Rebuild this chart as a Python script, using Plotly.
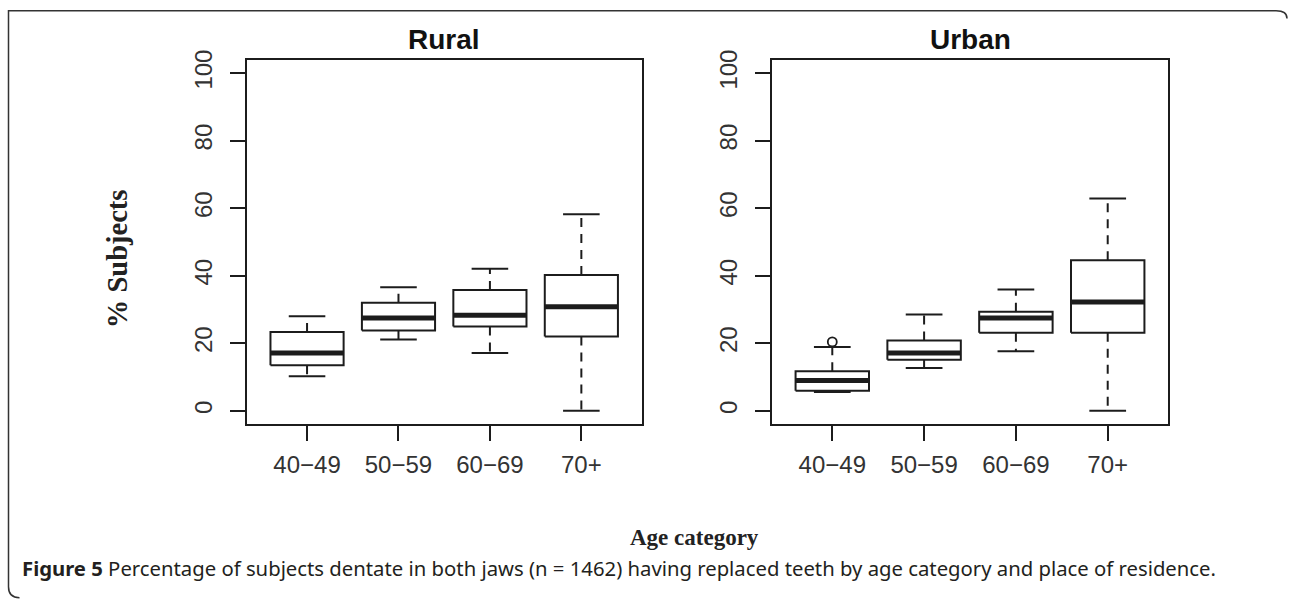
import plotly.graph_objects as go

# ---------------- data ----------------
categories = ["40\u221249", "50\u221259", "60\u221269", "70+"]

rural_lower = [10.2, 21.1, 17.1, 0.0]
rural_q1 = [13.5, 23.8, 25.0, 22.0]
rural_median = [17.1, 27.5, 28.3, 30.8]
rural_q3 = [23.3, 32.0, 35.8, 40.2]
rural_upper = [28.0, 36.6, 42.1, 58.2]
rural_outliers = [[], [], [], []]

urban_lower = [5.6, 12.7, 17.6, 0.0]
urban_q1 = [5.9, 15.1, 23.1, 23.1]
urban_median = [9.0, 17.1, 27.5, 32.2]
urban_q3 = [11.7, 20.8, 29.3, 44.6]
urban_upper = [18.9, 28.5, 35.9, 62.9]
urban_outliers = [[20.4], [], [], []]

y_ticks = [0, 20, 40, 60, 80, 100]

panels = [
    ("Rural", rural_lower, rural_q1, rural_median, rural_q3, rural_upper, rural_outliers),
    ("Urban", urban_lower, urban_q1, urban_median, urban_q3, urban_upper, urban_outliers),
]

# ---------------- layout constants (reference pixels) ----------------
W, H = 1289, 600
INK = "#1c1c1c"
BOXW = 0.4    # half width of box
CAPW = 0.2    # half width of staple
# vertical calibration of the captured page: shown_y = Y0 + YS * page_y
Y0, YS = 9.6, 0.9843


def fx(x):
    return x / W


def fy(y):
    page_y = (y - Y0) / YS
    return 1 - page_y / H


plot_px = [(246.7, 641.7), (771.7, 1168.3)]
plot_top, plot_bottom = 59.3, 424.3

fig = go.Figure()

for k, (name, lo, q1, med, q3, up, outl) in enumerate(panels):
    xa = "x" if k == 0 else "x2"
    ya = "y" if k == 0 else "y2"
    pos = list(range(1, len(categories) + 1))

    bx, by = [], []
    for i, p in enumerate(pos):
        bx += [p - BOXW, p + BOXW, p + BOXW, p - BOXW, p - BOXW, None]
        by += [q1[i], q1[i], q3[i], q3[i], q1[i], None]
    wx, wy = [], []
    for i, p in enumerate(pos):
        wx += [p, p, None, p, p, None]
        wy += [q3[i], up[i], None, q1[i], lo[i], None]
    fig.add_trace(go.Scatter(x=wx, y=wy, mode="lines", xaxis=xa, yaxis=ya,
                             line=dict(color=INK, width=2, dash="9px,7px"),
                             hoverinfo="skip", showlegend=False))
    fig.add_trace(go.Scatter(x=bx, y=by, mode="lines", xaxis=xa, yaxis=ya,
                             fill="toself", fillcolor="white",
                             line=dict(color=INK, width=2),
                             hoverinfo="skip", showlegend=False))
    cx, cy = [], []
    for i, p in enumerate(pos):
        cx += [p - CAPW, p + CAPW, None, p - CAPW, p + CAPW, None]
        cy += [up[i], up[i], None, lo[i], lo[i], None]
    fig.add_trace(go.Scatter(x=cx, y=cy, mode="lines", xaxis=xa, yaxis=ya,
                             line=dict(color=INK, width=2),
                             hoverinfo="skip", showlegend=False))
    mx, my = [], []
    for i, p in enumerate(pos):
        mx += [p - BOXW, p + BOXW, None]
        my += [med[i], med[i], None]
    fig.add_trace(go.Scatter(x=mx, y=my, mode="lines", xaxis=xa, yaxis=ya,
                             line=dict(color=INK, width=5),
                             hoverinfo="skip", showlegend=False))
    ox, oy = [], []
    for i, p in enumerate(pos):
        for v in outl[i]:
            ox.append(p)
            oy.append(v)
    if ox:
        fig.add_trace(go.Scatter(x=ox, y=oy, mode="markers", xaxis=xa, yaxis=ya,
                                 marker=dict(symbol="circle-open", size=9,
                                             color=INK, line=dict(width=1.8, color=INK)),
                                 hoverinfo="skip", showlegend=False))

    cxp = (plot_px[k][0] + plot_px[k][1]) / 2
    fig.add_annotation(text=f"<b>{name}</b>", x=fx(cxp), y=fy(39), xref="paper", yref="paper",
                       showarrow=False, xanchor="center", yanchor="middle",
                       font=dict(family="Liberation Sans, Arial", size=28, color="#111"))

axis_common = dict(showline=True, linewidth=2, linecolor=INK, mirror=True,
                   ticks="outside", ticklen=15, tickwidth=2, tickcolor=INK,
                   showgrid=False, zeroline=False,
                   tickfont=dict(family="Liberation Sans, Arial", size=24, color="#333"))

dom_y = [fy(plot_bottom), fy(plot_top)]
fig.update_layout(
    width=W, height=H,
    margin=dict(l=0, r=0, t=0, b=0),
    paper_bgcolor="white", plot_bgcolor="white",
    showlegend=False,
    xaxis=dict(domain=[fx(plot_px[0][0]), fx(plot_px[0][1])], range=[0.34, 4.66],
               tickvals=[1, 2, 3, 4], ticktext=categories, anchor="y",
               ticklabelstandoff=3, **axis_common),
    yaxis=dict(domain=dom_y, range=[-4, 104], tickvals=y_ticks, tickangle=-90,
               anchor="x", ticklabelstandoff=8, **axis_common),
    xaxis2=dict(domain=[fx(plot_px[1][0]), fx(plot_px[1][1])], range=[0.34, 4.66],
                tickvals=[1, 2, 3, 4], ticktext=categories, anchor="y2",
                ticklabelstandoff=3, **axis_common),
    yaxis2=dict(domain=dom_y, range=[-4, 104], tickvals=y_ticks, tickangle=-90,
                anchor="x2", ticklabelstandoff=8, **axis_common),
)

fig.add_annotation(text="<b>% Subjects</b>", x=fx(117), y=fy(259), xref="paper", yref="paper",
                   showarrow=False, textangle=-90, xanchor="center", yanchor="middle",
                   font=dict(family="Liberation Serif, Times New Roman", size=28.5, color="#222"))
fig.add_annotation(text="<b>Age category</b>", x=fx(695), y=fy(538), xref="paper", yref="paper",
                   showarrow=False, xanchor="center", yanchor="middle",
                   font=dict(family="Liberation Serif, Times New Roman", size=23, color="#222"))

fig.add_annotation(
    text="<b>Figure 5</b> Percentage of subjects dentate in both jaws (n = 1462) having replaced teeth by age category and place of residence.",
    x=fx(20), y=fy(568), xref="paper", yref="paper", showarrow=False,
    xanchor="left", yanchor="middle",
    font=dict(family="Noto Sans, Open Sans", size=20.3, color="#231f20"))

# outer frame with rounded corners (top-right, bottom-left)
r = 11
left_x, right_x, bot_y = 8.5, 1287, 598
top_page = 0.8 / H   # topmost visible row of the page
top_f = 1 - top_page
path = (f"M {fx(right_x)},{fy(7 + r)} Q {fx(right_x)},{top_f} {fx(right_x - r)},{top_f} "
        f"L {fx(left_x)},{top_f} L {fx(left_x)},{fy(bot_y - r)} "
        f"Q {fx(left_x)},{fy(bot_y)} {fx(left_x + r)},{fy(bot_y)}")
fig.add_shape(type="path", path=path, xref="paper", yref="paper",
              line=dict(color="#333", width=1.5))

fig.write_html(
    "out.html",
    config={"displayModeBar": False},
    post_script="document.documentElement.style.margin='0';"
                "document.body.style.margin='0';document.body.style.overflow='hidden';",
)
